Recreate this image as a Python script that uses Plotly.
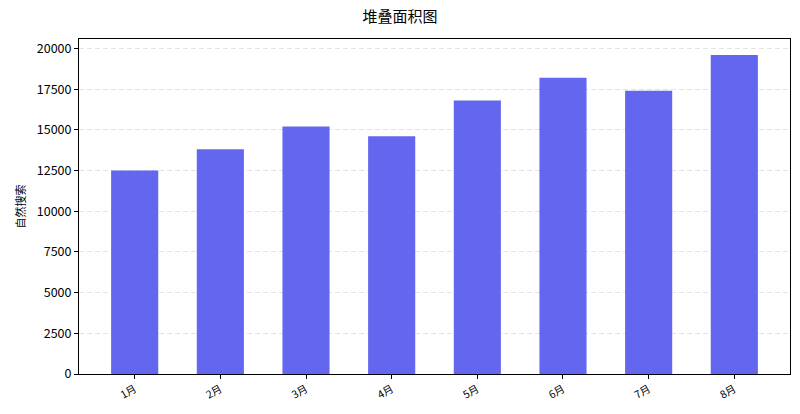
import plotly.graph_objects as go

months = ['1月', '2月', '3月', '4月', '5月', '6月', '7月', '8月']
organic = [12500, 13800, 15200, 14600, 16800, 18200, 17400, 19600]
y_ticks = [0, 2500, 5000, 7500, 10000, 12500, 15000, 17500, 20000]

font_family = 'Noto Sans CJK SC, Microsoft YaHei, sans-serif'

fig = go.Figure([go.Bar(x=list(range(len(months))), y=organic, width=0.55,
                        marker=dict(color='rgb(99,102,238)', line=dict(width=0)))])

fig.update_layout(
    title=dict(text='堆叠面积图', x=0.5, xanchor='center', y=0.959, yanchor='middle',
               font=dict(size=15, color='black', family=font_family)),
    width=800, height=414,
    margin=dict(l=79, r=10, t=39, b=40),
    plot_bgcolor='white', paper_bgcolor='white',
    font=dict(family=font_family, color='black'),
    showlegend=False,
)
fig.update_xaxes(
    tickmode='array', tickvals=list(range(len(months))), ticktext=months,
    tickangle=-30, tickfont=dict(size=10.5),
    range=[-0.65, 7.65], showgrid=False, zeroline=False,
    showline=True, linecolor='black', linewidth=1, mirror=True,
    ticks='outside', ticklen=4, tickcolor='black',
)
fig.update_yaxes(
    title=dict(text='自然搜索', font=dict(size=11), standoff=8),
    range=[0, 20580], tickmode='array', tickvals=y_ticks, ticktext=[str(v) for v in y_ticks],
    tickfont=dict(size=12.5),
    showgrid=True, gridcolor='rgba(210,210,210,0.6)', griddash='5px,3px', gridwidth=1,
    zeroline=False, showline=True, linecolor='black', linewidth=1, mirror=True,
    ticks='outside', ticklen=4, tickcolor='black',
)

# drop the default body margin so the 800x414 figure fills the window
fig.write_html('out.html', config={'displayModeBar': False},
               post_script="document.body.style.margin='0';")
